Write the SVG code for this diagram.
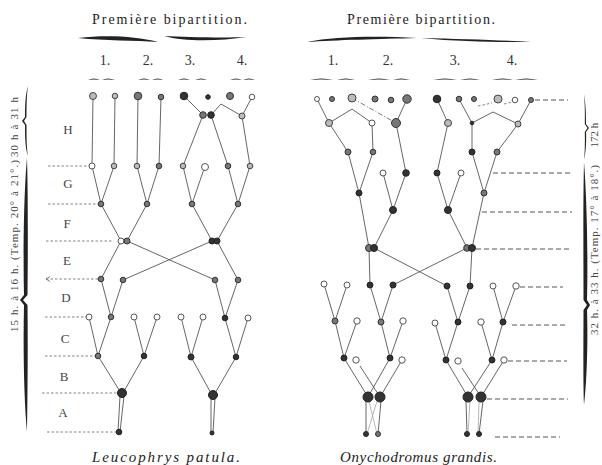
<svg xmlns="http://www.w3.org/2000/svg" width="602" height="465" viewBox="0 0 602 465" font-family="'Liberation Serif', 'Times New Roman', serif">
<style>
.ln{fill:none;stroke:#555;stroke-width:0.9}
.fl{fill:none;stroke:#999;stroke-width:0.7}
.dd{fill:none;stroke:#666;stroke-width:0.9;stroke-dasharray:5,2,1,2}
.dl{fill:none;stroke:#777;stroke-width:0.9;stroke-dasharray:2.5,2}
.dr{fill:none;stroke:#555;stroke-width:1;stroke-dasharray:5,3}
.nh{fill:#fff;stroke:#555;stroke-width:1}
.nm{fill:#bbb;stroke:#444;stroke-width:1}
.ng{fill:#777;stroke:#333;stroke-width:1}
.nd{fill:#333;stroke:#222;stroke-width:1}
.br{fill:#222}
text{font-family:'Liberation Serif','Times New Roman',serif}
.tt{fill:#222}
.lab{font-size:13px;fill:#444;text-anchor:middle}
.num{font-size:14px;fill:#333;text-anchor:middle}
.rot{font-size:11px;fill:#444;text-anchor:middle}
</style>
<defs>
<marker id="arr" markerWidth="6" markerHeight="6" refX="5" refY="3" orient="auto" markerUnits="userSpaceOnUse">
<path d="M1,0.5 L5,3 L1,5.5" fill="none" stroke="#666" stroke-width="0.8"/>
</marker>
</defs>
<rect width="602" height="465" fill="#fff"/>

<g id="titles">
<text class="tt" x="92" y="24" font-size="14" textLength="155" lengthAdjust="spacing">Première bipartition.</text>
<text class="tt" x="347" y="24" font-size="14" textLength="148" lengthAdjust="spacing">Première bipartition.</text>
<path class="br" d="M78,38 C105,35 135,36 158,42 C135,40 105,41 78,38 Z"/>
<path class="br" d="M164,36 C185,42 220,41 247,37 C220,38 185,37 164,36 Z"/>
<path class="br" d="M307,42 C335,36 380,36 417,38 C380,39 335,40 307,42 Z"/>
<path class="br" d="M421,38 C460,42 500,42 531,42 C500,40 460,39 421,38 Z"/>
<text class="num" x="105" y="65">1.</text>
<text class="num" x="148" y="65">2.</text>
<text class="num" x="190" y="65">3.</text>
<text class="num" x="242" y="65">4.</text>
<text class="num" x="333" y="65">1.</text>
<text class="num" x="388" y="65">2.</text>
<text class="num" x="455" y="65">3.</text>
<text class="num" x="512" y="65">4.</text>
</g>
<g id="small-braces" fill="#333">
<path d="M88,80 Q94,77 100,80 Q94,79 88,80 Z"/><path d="M102,80 Q108,77 115,80 Q108,79 102,80 Z"/>
<path d="M138,80 Q144,77 150,80 Q144,79 138,80 Z"/><path d="M152,80 Q158,77 163,80 Q158,79 152,80 Z"/>
<path d="M178,80 Q184,77 190,80 Q184,79 178,80 Z"/><path d="M195,80 Q201,77 207,80 Q201,79 195,80 Z"/>
<path d="M230,80 Q236,77 242,80 Q236,79 230,80 Z"/><path d="M243,80 Q249,77 255,80 Q249,79 243,80 Z"/>
<path d="M310,80 Q321,77 333,80 Q321,79 310,80 Z"/><path d="M337,80 Q346,77 355,80 Q346,79 337,80 Z"/>
<path d="M368,80 Q379,77 390,80 Q379,79 368,80 Z"/><path d="M393,80 Q401,77 410,80 Q401,79 393,80 Z"/>
<path d="M433,80 Q445,77 457,80 Q445,79 433,80 Z"/><path d="M460,80 Q470,77 480,80 Q470,79 460,80 Z"/>
<path d="M492,80 Q502,77 513,80 Q502,79 492,80 Z"/><path d="M515,80 Q526,77 538,80 Q526,79 515,80 Z"/>
</g>

<g id="left-side">
<path class="br" d="M28,86 C25,95 25,110 25,117 L22,121 L25,125 C25,135 25,148 28,156 C26.5,148 26.5,135 26.5,125 L24,121 L26.5,117 C26.5,110 26.5,95 28,86 Z"/>
<path class="br" d="M27,158 C24,190 23,250 24,295 L20,300 L24,305 C23,350 24,400 27,432 C27.5,400 28,350 27.5,305 L23,300 L27.5,295 C28,250 28,190 27,158 Z"/>
<text class="rot" transform="translate(18,127) rotate(-90)" textLength="60" lengthAdjust="spacing">30 h à 31 h</text>
<text class="rot" transform="translate(18,246) rotate(-90)" textLength="172" lengthAdjust="spacing">15 h. à 16 h. (Temp. 20° à 21°.)</text>
</g>
<g id="right-side">
<path class="br" d="M584,94 C586,105 586,118 586,124 L589,128 L586,132 C586.5,140 586,152 584,160 C585,152 585,140 584.8,132 L587.5,128 L584.8,124 C585,118 585,105 584,94 Z"/>
<path class="br" d="M584,162 C587,200 588,260 587,300 L590,305 L587,310 C588,340 587,380 584,405 C583,380 583.5,340 583.5,310 L587,305 L583.5,300 C583.5,260 583,200 584,162 Z"/>
<text class="rot" transform="translate(598,135) rotate(-90)">172 h</text>
<text class="rot" transform="translate(598,250) rotate(-90)" textLength="170" lengthAdjust="spacing">32 h. à 33 h. (Temp. 17° à 18°.)</text>
</g>

<g id="stage-labels">
<text class="lab" x="68" y="134">H</text>
<text class="lab" x="68" y="188">G</text>
<text class="lab" x="67" y="228">F</text>
<text class="lab" x="67" y="265">E</text>
<text class="lab" x="66" y="302">D</text>
<text class="lab" x="65" y="343">C</text>
<text class="lab" x="64" y="381">B</text>
<text class="lab" x="63" y="417">A</text>
</g>

<g id="connectors">
<path class="ln" d="M93,96 L92,166 M115,96 L114,166 M138,96 L137,166 M161,97 L159,166 M184,96 L203,115 M211,115 L221,104 L242,116 M252,97 L242,116 M203,115 L183,166 M211,115 L228,166 M242,116 L250,166"/>
<path class="ln" d="M92,166 L101,204 M114,166 L101,204 M137,166 L147,204 M159,166 L147,204 M183,166 L192,204 M205,166 L192,204 M228,166 L238,204 M250,166 L238,204"/>
<path class="ln" d="M101,204 L121,241 M147,204 L127,241 M192,204 L212,241 M238,204 L217,241"/>
<path class="ln" d="M121,241 L101,279 M127,241 L215,280 M212,241 L123,280 M217,241 L238,280"/>
<path class="ln" d="M101,279 L111,317 M123,280 L111,317 M215,280 L225,318 M238,280 L225,318"/>
<path class="ln" d="M89,317 L98,356 M111,317 L98,356 M134,317 L144,356 M157,317 L144,356 M181,317 L191,357 M203,317 L191,357 M225,318 L236,357 M248,318 L236,357"/>
<path class="ln" d="M98,356 L121,393 M144,356 L123,393 M191,357 L212,395 M236,357 L214,395"/>
<path class="ln" d="M120,396 L118,432 M124,396 L120,432 M211,398 L211,433 M215,398 L213,433"/>
<path class="ln" d="M317,99 L329,123 M329,123 L352,109 L372,123 M407,99 L396,123 M437,99 L448,123 M459,99 L472,123 M472,123 L493,112 L518,124 M531,100 L518,124"/>
<path class="dd" d="M352,98 L396,123"/>
<path class="dl" d="M478,106 L492,103 M504,104 L512,102"/>
<path class="ln" d="M329,123 L348,152 M372,123 L373,152 M472,123 L472,152 M518,124 L497,152 M448,123 L437,173 M396,123 L406,173"/>
<path class="ln" d="M348,152 L359,193 M373,152 L359,193 M383,173 L393,210 M406,173 L393,210 M437,173 L448,210 M461,173 L448,210 M472,152 L484,193 M497,152 L484,193"/>
<path class="ln" d="M359,193 L369,248 M393,210 L374,248 M448,210 L467,248 M484,193 L472,248"/>
<path class="ln" d="M369,248 L370,285 M374,248 L447,286 M467,248 L393,285 M472,248 L470,286"/>
<path class="ln" d="M324,284 L335,321 M347,285 L335,321 M370,285 L381,322 M393,285 L381,322 M447,286 L458,322 M470,286 L458,322 M493,286 L503,322 M516,286 L503,322"/>
<path class="ln" d="M335,321 L344,358 M357,321 L344,358 M381,322 L390,358 M403,321 L390,358 M435,323 L446,360 M458,322 L446,360 M481,322 L492,360 M503,322 L492,360"/>
<path class="ln" d="M344,358 L368,397 M360,366 L380,397 M390,358 L368,397 M402,360 L380,397 M446,360 L468,397 M462,368 L481,397 M492,360 L468,397 M504,360 L481,397"/>
<path class="ln" d="M366,401 L366,434 M381,401 L378,434 M466,401 L467,434 M483,401 L479,434"/>
<path class="fl" d="M369,401 L377,434 M377,401 L367,434 M470,401 L468,434 M479,401 L478,434"/>
<path class="dl" d="M48,166 L89,166 M48,204 L98,204 M46,241 L113,241 M45,317 L86,317 M45,356 L95,356 M42,393 L117,393 M47,432 L116,432"/>
<path class="dl" d="M98,279 L46,279" marker-end="url(#arr)"/>
<path class="dr" d="M535,100 L568,100 M493,173 L572,173 M482,212 L572,212 M476,249 L572,249 M520,287 L563,287 M512,325 L568,325 M508,361 L567,361 M487,399 L568,399 M495,437 L560,437"/>
</g>

<g id="nodes-left">
<g id="L_t1"><circle class="nm" cx="93" cy="96" r="3.5"/></g>
<g id="L_t2"><circle class="nm" cx="115" cy="96" r="2.8"/></g>
<g id="L_t3"><circle class="ng" cx="138" cy="96" r="3.8"/></g>
<g id="L_t4"><circle class="ng" cx="161" cy="97" r="2.8"/></g>
<g id="L_t5"><circle class="nd" cx="184" cy="96" r="3.8"/></g>
<g id="L_t6"><circle class="nd" cx="208" cy="97" r="2.3"/></g>
<g id="L_t7"><circle class="ng" cx="230" cy="96" r="3.5"/></g>
<g id="L_t8"><circle class="nh" cx="252" cy="97" r="2.8"/></g>
<g id="L_p1"><circle class="ng" cx="203" cy="115" r="3.3"/></g>
<g id="L_p2"><circle class="nd" cx="211" cy="115" r="3.3"/></g>
<g id="L_q"><circle class="nm" cx="242" cy="116" r="3"/></g>
<g id="L_g1"><circle class="nh" cx="92" cy="166" r="3"/></g>
<g id="L_g2"><circle class="nm" cx="114" cy="166" r="2.8"/></g>
<g id="L_g3"><circle class="nm" cx="137" cy="166" r="2.8"/></g>
<g id="L_g4"><circle class="ng" cx="159" cy="166" r="2.8"/></g>
<g id="L_g5"><circle class="nm" cx="183" cy="166" r="2.8"/></g>
<g id="L_g6"><circle class="nh" cx="205" cy="167" r="3.5"/></g>
<g id="L_g7"><circle class="ng" cx="228" cy="166" r="2.8"/></g>
<g id="L_g8"><circle class="nm" cx="250" cy="166" r="2.8"/></g>
<g id="L_f1"><circle class="ng" cx="101" cy="204" r="2.8"/></g>
<g id="L_f2"><circle class="ng" cx="147" cy="204" r="2.8"/></g>
<g id="L_f3"><circle class="ng" cx="192" cy="204" r="2.8"/></g>
<g id="L_f4"><circle class="ng" cx="238" cy="204" r="2.8"/></g>
<g id="L_e1"><circle class="nh" cx="121" cy="241" r="3"/></g>
<g id="L_e2"><circle class="ng" cx="127" cy="241" r="3"/></g>
<g id="L_e3"><circle class="nd" cx="212" cy="241" r="3"/></g>
<g id="L_e4"><circle class="nd" cx="217" cy="241" r="3"/></g>
<g id="L_d1"><circle class="ng" cx="101" cy="279" r="2.8"/></g>
<g id="L_d2"><circle class="ng" cx="123" cy="280" r="2.8"/></g>
<g id="L_d3"><circle class="ng" cx="215" cy="280" r="2.8"/></g>
<g id="L_d4"><circle class="ng" cx="238" cy="280" r="2.8"/></g>
<g id="L_c1"><circle class="nh" cx="89" cy="317" r="3"/></g>
<g id="L_c2"><circle class="ng" cx="111" cy="317" r="2.8"/></g>
<g id="L_c3"><circle class="nh" cx="134" cy="317" r="3"/></g>
<g id="L_c4"><circle class="nh" cx="157" cy="317" r="3"/></g>
<g id="L_c5"><circle class="nh" cx="181" cy="317" r="3"/></g>
<g id="L_c6"><circle class="nh" cx="203" cy="317" r="3"/></g>
<g id="L_c7"><circle class="nd" cx="225" cy="318" r="2.8"/></g>
<g id="L_c8"><circle class="nh" cx="248" cy="318" r="3"/></g>
<g id="L_b1"><circle class="ng" cx="98" cy="356" r="2.8"/></g>
<g id="L_b2"><circle class="nd" cx="144" cy="356" r="2.8"/></g>
<g id="L_b3"><circle class="nd" cx="191" cy="357" r="3"/></g>
<g id="L_b4"><circle class="nd" cx="236" cy="357" r="2.8"/></g>
<g id="L_a1"><circle class="nd" cx="122" cy="393" r="4.5"/></g>
<g id="L_a2"><circle class="nd" cx="213" cy="395" r="4.5"/></g>
<g id="L_z1"><circle class="nd" cx="119" cy="432" r="2.8"/></g>
<g id="L_z2"><circle class="nd" cx="212" cy="433" r="2"/></g>
</g>

<g id="nodes-right">
<g id="R_t1"><circle class="nh" cx="317" cy="99" r="2.5"/></g>
<g id="R_t2"><circle class="ng" cx="332" cy="99" r="2.5"/></g>
<g id="R_t3"><circle class="nm" cx="352" cy="98" r="4"/></g>
<g id="R_t4"><circle class="ng" cx="375" cy="99" r="3"/></g>
<g id="R_t5"><circle class="ng" cx="391" cy="100" r="2.8"/></g>
<g id="R_t6"><circle class="ng" cx="407" cy="99" r="4.2"/></g>
<g id="R_t7"><circle class="nd" cx="437" cy="99" r="3.8"/></g>
<g id="R_t8"><circle class="ng" cx="459" cy="99" r="2.8"/></g>
<g id="R_t9"><circle class="ng" cx="474" cy="99" r="2.5"/></g>
<g id="R_t10"><circle class="nm" cx="498" cy="99" r="4"/></g>
<g id="R_t11"><circle class="nh" cx="515" cy="100" r="2.8"/></g>
<g id="R_t12"><circle class="ng" cx="531" cy="100" r="2.5"/></g>
<g id="R_u1"><circle class="nm" cx="329" cy="123" r="3.5"/></g>
<g id="R_u2"><circle class="nh" cx="372" cy="123" r="3"/></g>
<g id="R_u3"><circle class="ng" cx="396" cy="123" r="4.5"/></g>
<g id="R_u4"><circle class="nm" cx="448" cy="123" r="3.5"/></g>
<g id="R_u5"><circle class="nd" cx="472" cy="123" r="1.8"/></g>
<g id="R_u6"><circle class="nm" cx="518" cy="124" r="3"/></g>
<g id="R_v1"><circle class="ng" cx="348" cy="152" r="3"/></g>
<g id="R_v2"><circle class="ng" cx="373" cy="152" r="2.8"/></g>
<g id="R_v3"><circle class="nd" cx="472" cy="152" r="3"/></g>
<g id="R_v4"><circle class="ng" cx="497" cy="152" r="3"/></g>
<g id="R_w1"><circle class="nh" cx="383" cy="173" r="3"/></g>
<g id="R_w2"><circle class="nd" cx="406" cy="173" r="3.3"/></g>
<g id="R_w3"><circle class="nd" cx="437" cy="173" r="3"/></g>
<g id="R_w4"><circle class="nh" cx="461" cy="173" r="3"/></g>
<g id="R_x1"><circle class="nd" cx="359" cy="193" r="3"/></g>
<g id="R_x2"><circle class="nd" cx="393" cy="210" r="3.5"/></g>
<g id="R_x3"><circle class="nd" cx="448" cy="210" r="3.5"/></g>
<g id="R_x4"><circle class="ng" cx="484" cy="193" r="3"/></g>
<g id="R_e1"><circle class="ng" cx="369" cy="248" r="3.5"/></g>
<g id="R_e2"><circle class="nd" cx="374" cy="248" r="3.5"/></g>
<g id="R_e3"><circle class="ng" cx="467" cy="248" r="3.3"/></g>
<g id="R_e4"><circle class="nd" cx="472" cy="248" r="3.5"/></g>
<g id="R_d1"><circle class="nh" cx="324" cy="284" r="3"/></g>
<g id="R_d2"><circle class="nh" cx="347" cy="285" r="3"/></g>
<g id="R_d3"><circle class="nd" cx="370" cy="285" r="3"/></g>
<g id="R_d4"><circle class="nd" cx="393" cy="285" r="3"/></g>
<g id="R_d5"><circle class="nd" cx="447" cy="286" r="3"/></g>
<g id="R_d6"><circle class="nd" cx="470" cy="286" r="3"/></g>
<g id="R_d7"><circle class="nh" cx="493" cy="286" r="3"/></g>
<g id="R_d8"><circle class="nh" cx="516" cy="286" r="3.2"/></g>
<g id="R_c1"><circle class="ng" cx="335" cy="321" r="3"/></g>
<g id="R_c2"><circle class="nh" cx="357" cy="321" r="3.2"/></g>
<g id="R_c3"><circle class="ng" cx="381" cy="322" r="3"/></g>
<g id="R_c4"><circle class="nh" cx="403" cy="321" r="3.2"/></g>
<g id="R_c5"><circle class="nh" cx="435" cy="323" r="3"/></g>
<g id="R_c6"><circle class="nd" cx="458" cy="322" r="3"/></g>
<g id="R_c7"><circle class="nh" cx="481" cy="322" r="3.2"/></g>
<g id="R_c8"><circle class="nd" cx="503" cy="322" r="3"/></g>
<g id="R_b1"><circle class="nd" cx="344" cy="358" r="3"/></g>
<g id="R_b2"><circle class="nh" cx="356" cy="360" r="3.2"/></g>
<g id="R_b3"><circle class="nd" cx="390" cy="358" r="3"/></g>
<g id="R_b4"><circle class="nh" cx="402" cy="360" r="3.2"/></g>
<g id="R_b5"><circle class="nd" cx="446" cy="360" r="3"/></g>
<g id="R_b6"><circle class="nh" cx="458" cy="361" r="3.2"/></g>
<g id="R_b7"><circle class="nd" cx="492" cy="360" r="3"/></g>
<g id="R_b8"><circle class="nh" cx="504" cy="360" r="3.2"/></g>
<g id="R_a1"><circle class="nd" cx="368" cy="397" r="5"/></g>
<g id="R_a2"><circle class="nd" cx="380" cy="397" r="5"/></g>
<g id="R_a3"><circle class="nd" cx="468" cy="397" r="5"/></g>
<g id="R_a4"><circle class="nd" cx="481" cy="397" r="5"/></g>
<g id="R_z1"><circle class="nd" cx="366" cy="434" r="2.5"/></g>
<g id="R_z2"><circle class="ng" cx="378" cy="434" r="2.5"/></g>
<g id="R_z3"><circle class="nd" cx="467" cy="434" r="2.5"/></g>
<g id="R_z4"><circle class="nd" cx="479" cy="434" r="2.5"/></g>
</g>

<g id="captions">
<text class="tt" x="92" y="462" font-size="15" font-style="italic" textLength="148" lengthAdjust="spacing">Leucophrys patula.</text>
<text class="tt" x="340" y="462" font-size="15" font-style="italic" textLength="157" lengthAdjust="spacing">Onychodromus grandis.</text>
</g>
</svg>
